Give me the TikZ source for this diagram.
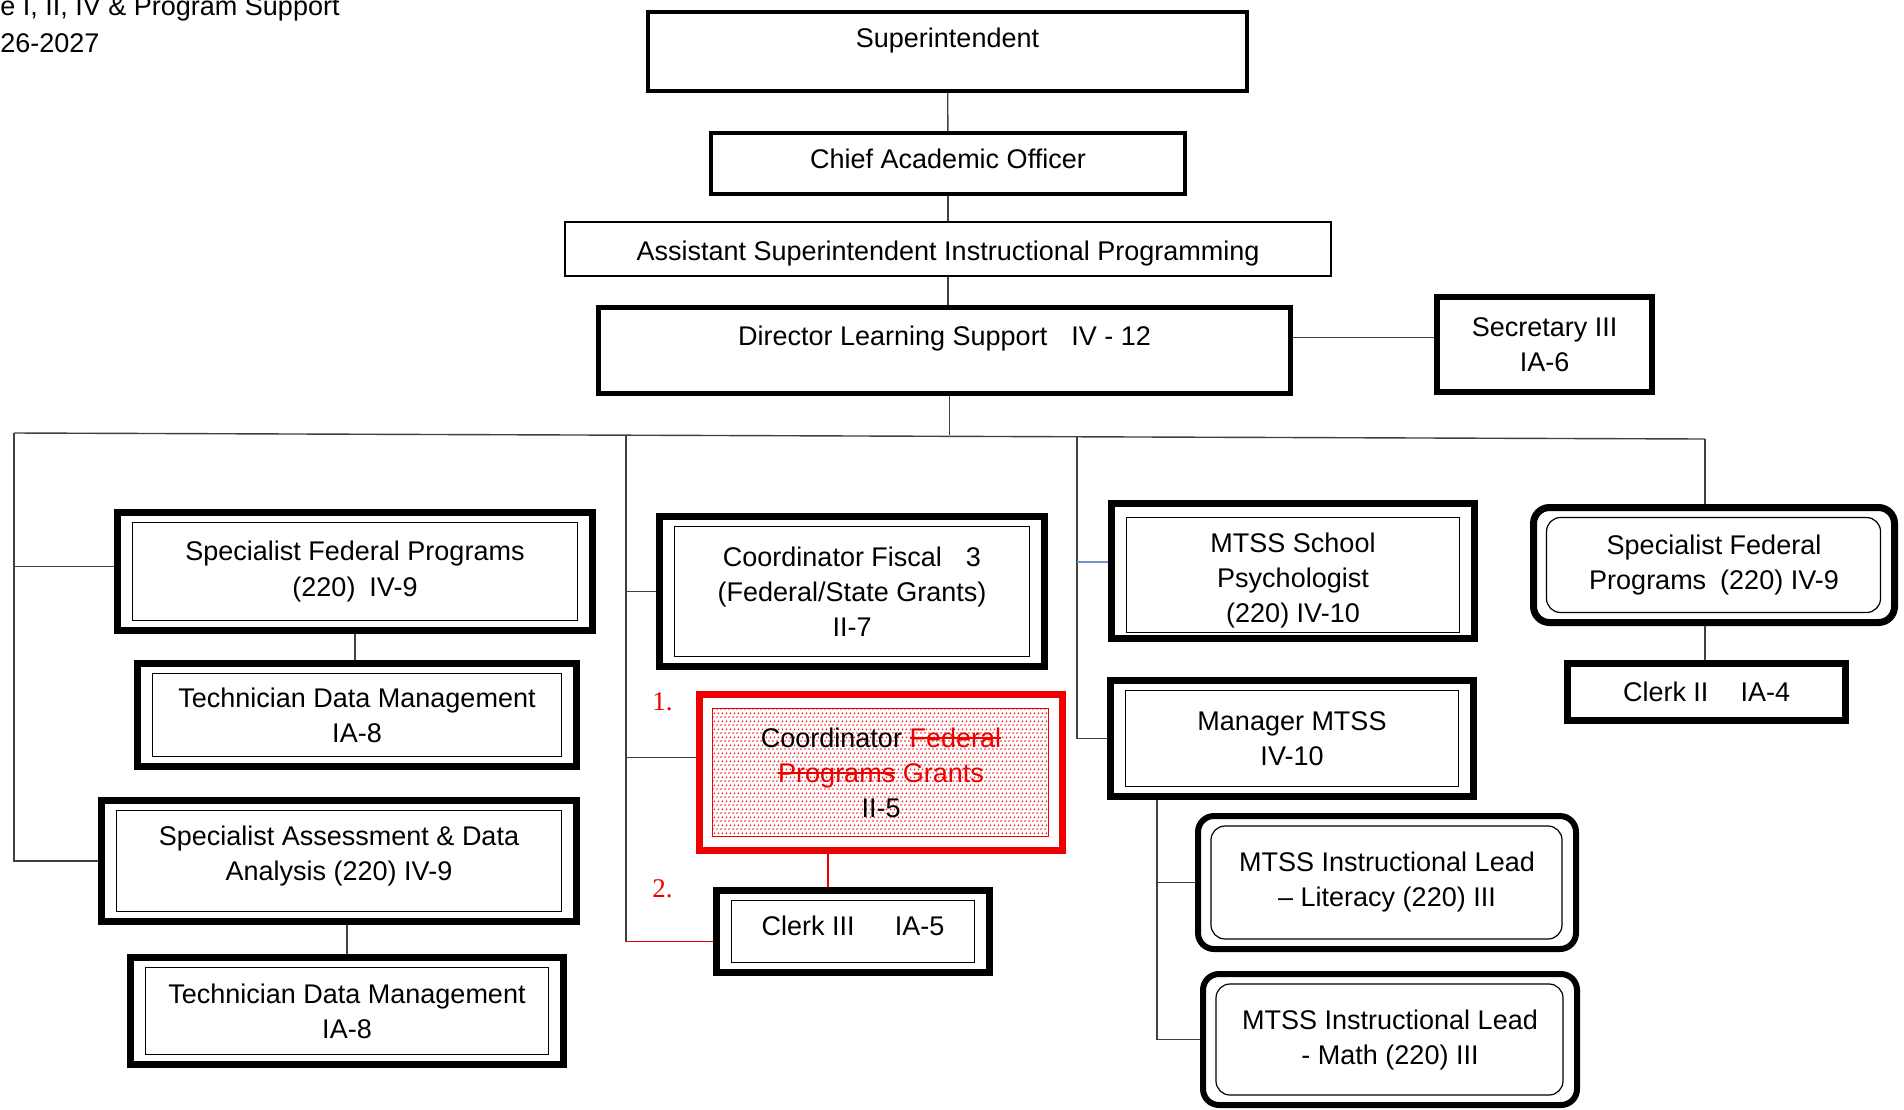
\documentclass[tikz,border=0pt]{standalone}
\usepackage{fontspec}
\setmainfont{Liberation Sans}
\newfontfamily\numfont{Liberation Serif}
\usepackage{xcolor}
\usepackage{tikz}
\usetikzlibrary{calc,patterns}

\definecolor{linegray}{RGB}{64,64,64}
\definecolor{markred}{RGB}{238,0,0}
\definecolor{linkblue}{RGB}{114,147,203}

% staggered dots for the shaded box
\pgfdeclarepatternformonly{fine dots}{\pgfpointorigin}{\pgfpoint{2pt}{4pt}}{\pgfpoint{2pt}{4pt}}{%
  \pgfpathrectangle{\pgfpoint{0.2pt}{0.2pt}}{\pgfpoint{0.75pt}{0.75pt}}%
  \pgfpathrectangle{\pgfpoint{1.2pt}{2.2pt}}{\pgfpoint{0.75pt}{0.75pt}}%
  \pgfusepath{fill}}

% struck-out word
\newsavebox{\strikebox}
\newcommand{\strikeword}[1]{\sbox{\strikebox}{#1}\rlap{\rule[0.32em]{\wd\strikebox}{0.9pt}}\usebox{\strikebox}}

\tikzset{
  every node/.style={font=\fontsize{13.5}{17.5}\selectfont},
  box/.style={draw, inner sep=0pt, align=center},
  dbox/.style={box, line width=3.5pt, sharp corners,
    path picture={\draw[line width=0.6pt, sharp corners]
      ([shift={(7.5pt,-5pt)}]path picture bounding box.north west) rectangle
      ([shift={(-7.5pt,5pt)}]path picture bounding box.south east);}},
  dboxlow/.style={box, line width=3.5pt, sharp corners,
    path picture={\draw[line width=0.6pt, sharp corners]
      ([shift={(7.5pt,-7pt)}]path picture bounding box.north west) rectangle
      ([shift={(-7.5pt,3pt)}]path picture bounding box.south east);}},
  rbox/.style={box, line width=3pt, rounded corners=8pt,
    path picture={\draw[line width=0.6pt, rounded corners=7pt]
      ([shift={(6.5pt,-5pt)}]path picture bounding box.north west) rectangle
      ([shift={(-7pt,5pt)}]path picture bounding box.south east);}},
  redbox/.style={box, draw=markred, line width=3.5pt,
    path picture={\draw[markred, line width=0.5pt, pattern=fine dots, pattern color=markred]
      ([shift={(6.5pt,-7pt)}]path picture bounding box.north west) rectangle
      ([shift={(-7pt,7pt)}]path picture bounding box.south east);}},
  conn/.style={draw=linegray, line width=0.7pt},
}

\begin{document}
\begin{tikzpicture}[x=0.5pt, y=-0.5pt]
\useasboundingbox (0,0) rectangle (1904,1109);
\clip (0,0) rectangle (1904,1109);

% heading, cut off by the page edge
\node[anchor=base west, inner sep=0pt] (head1) at (0,15) {e I, II, IV \& Program Support};
\node[anchor=base west, inner sep=0pt] (head2) at (0,52) {26-2027};

% top of the chain
\node[box, line width=2pt, minimum width=299.5pt, minimum height=39.5pt] (super) at (947.5,51.5) {Superintendent\\[-4pt]~};
\node[box, line width=2pt, minimum width=237pt, minimum height=30.5pt] (cao) at (948,163.5) {Chief Academic Officer\rule[-5pt]{0pt}{0pt}};
\node[box, line width=1pt, minimum width=383pt, minimum height=27pt] (asst) at (948,249) {\rule{0pt}{14pt}Assistant Superintendent Instructional Programming};
\node[box, line width=2.5pt, minimum width=346pt, minimum height=43pt] (dir) at (944.5,350.5) {Director Learning Support\hspace{12pt}IV - 12\\[-3pt]~};
\node[box, line width=3pt, minimum width=107.5pt, minimum height=47.5pt] (sec) at (1544.5,344.5) {Secretary III\\IA-6};

% left column
\node[dbox, minimum width=237.5pt, minimum height=59pt] (sfpA) at (355,571.5) {Specialist Federal Programs\\(220)\hspace{7pt}IV-9};
\node[dbox, minimum width=219.5pt, minimum height=51.5pt] (techA) at (357,715) {Technician Data Management\\IA-8};
\node[dbox, minimum width=237.5pt, minimum height=60.5pt] (sada) at (339,861) {Specialist Assessment \& Data\\Analysis (220) IV-9\rule[-8pt]{0pt}{0pt}};
\node[dbox, minimum width=216.5pt, minimum height=53.5pt] (techB) at (347,1011) {Technician Data Management\\IA-8};

% middle column
\node[dbox, minimum width=192.5pt, minimum height=75pt] (fisc) at (852,591.5) {Coordinator Fiscal\hspace{12pt}3\\(Federal/State Grants)\\II-7};
\node[redbox, minimum width=181.5pt, minimum height=78pt] (coord) at (881,772.5) {Coordinator \textcolor{markred}{\strikeword{Federal}}\\\textcolor{markred}{\strikeword{Programs} Grants}\\II-5};
\node[dbox, minimum width=136.5pt, minimum height=41pt] (clerkC) at (853,931.5) {Clerk III\hspace{20pt}IA-5\rule[-6pt]{0pt}{0pt}};
\node[anchor=base west, inner sep=0pt, text=markred, font=\fontsize{13.5}{16}\numfont] (num1) at (652,710) {1.};
\node[anchor=base west, inner sep=0pt, text=markred, font=\fontsize{13.5}{16}\numfont] (num2) at (652,897) {2.};

% MTSS column
\node[dboxlow, minimum width=181.5pt, minimum height=67.5pt] (psy) at (1293,571) {\rule{0pt}{19pt}MTSS School\\Psychologist\\(220) IV-10};
\node[dbox, minimum width=181.5pt, minimum height=58pt] (mgr) at (1292,738.5) {Manager MTSS\\IV-10};
\node[rbox, minimum width=189pt, minimum height=66.5pt] (lit) at (1387,882.5) {MTSS Instructional Lead\\– Literacy (220) III};
\node[rbox, minimum width=187pt, minimum height=65.5pt] (math) at (1390,1039.5) {MTSS Instructional Lead\\- Math (220) III};

% right column
\node[rbox, line width=3.5pt, minimum width=180.5pt, minimum height=57.5pt] (sfpB) at (1714,565) {Specialist Federal\\Programs\hspace{7pt}(220) IV-9};
\node[box, line width=3.5pt, minimum width=139pt, minimum height=28.5pt] (clerkB) at (1706.5,692) {Clerk II\hspace{16pt}IA-4};

% connectors
\coordinate (busL) at (14,433);
\coordinate (busR) at (1705,439);
\coordinate (trunkM) at (626,435);
\coordinate (trunkN) at (1077,437);
\coordinate (cl3) at ([yshift=-5pt]clerkC.west);
\coordinate (coordW) at ([yshift=7.5pt]coord.west);
\coordinate (psyW) at ([yshift=4.5pt]psy.west);
\coordinate (mgrT) at ([xshift=-67.5pt]mgr.south);

\draw[conn] (super) -- (cao);
\draw[conn] (cao) -- (asst);
\draw[conn] (asst.south) -- (asst.south |- dir.north);
\draw[conn] ([yshift=3.5pt]sec.west) -- ([yshift=3.5pt]sec.west -| dir.east);
\draw[conn] ([xshift=2.5pt]dir.south) -- ([xshift=2.5pt]dir.south |- trunkM);
\draw[conn] (busL) -- (busR);

\draw[conn] (busL) |- (sada.west);
\draw[conn] ([yshift=2.5pt]busL |- sfpA.west) -- ([yshift=2.5pt]sfpA.west);
\draw[conn] (sfpA.south) -- (sfpA.south |- techA.north);
\draw[conn] (techB.north) -- (techB.north |- sada.south);

\draw[conn] (trunkM) -- (trunkM |- cl3);
\draw[conn] (trunkM |- fisc.west) -- (fisc.west);
\draw[conn] (trunkM |- coordW) -- (coordW);
\draw[conn, draw=markred] (trunkM |- cl3) -- (cl3);
\draw[conn, draw=markred] ([xshift=-26.5pt]coord.south) -- ([xshift=-26.5pt]coord.south |- clerkC.north);

\draw[conn] (trunkN) |- (mgr.west);
\draw[conn, draw=linkblue] (trunkN |- psyW) -- (psyW);
\draw[conn] (mgrT) |- (math.west);
\draw[conn] (mgrT |- lit.west) -- (lit.west);

\draw[conn] (busR) -- (busR |- sfpB.north);
\draw[conn] (busR |- sfpB.south) -- (busR |- clerkB.north);
\end{tikzpicture}
\end{document}
